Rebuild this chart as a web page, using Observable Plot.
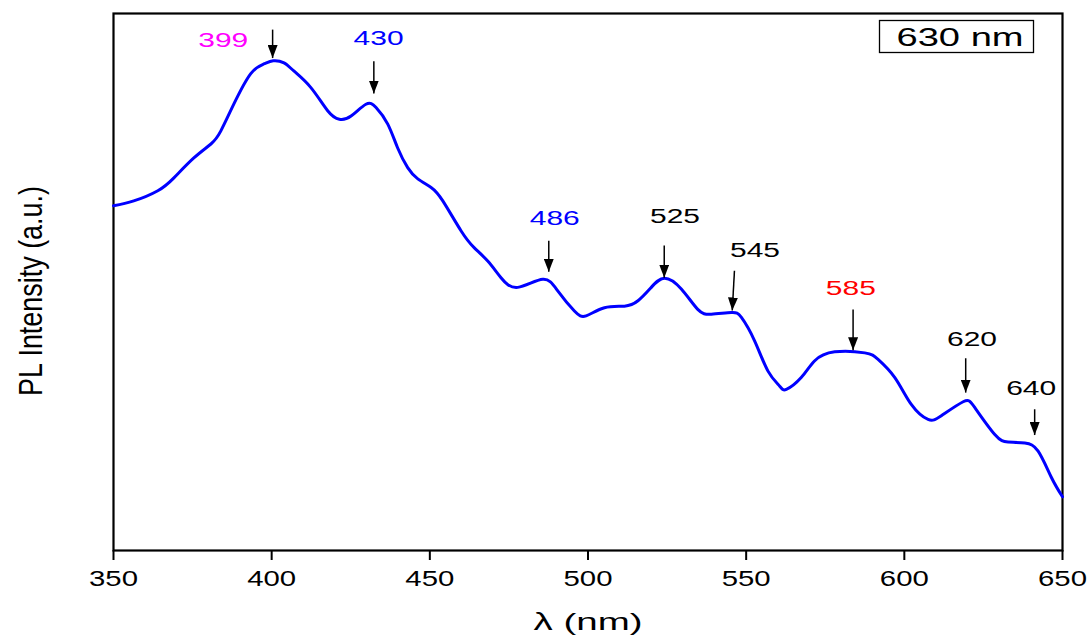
<!DOCTYPE html>
<html>
<head>
<meta charset="utf-8">
<script src="https://cdn.jsdelivr.net/npm/d3@7"></script>
<script src="https://cdn.jsdelivr.net/npm/@observablehq/plot@0.6"></script>
<style>
  body { margin: 0; background: #ffffff; }
  #chart { width: 1089px; height: 635px; }
</style>
</head>
<body>
<div id="chart"></div>
<script>
// PL emission spectrum (legend: 630 nm), intensity in arbitrary units
const wavelength = [350, 356.4, 364.0, 369.1, 375.4, 380.8, 383.9, 388.1, 393.4, 397.5,
  400.5, 403.9, 407.0, 412.4, 417.7, 421.4, 425.1, 429.8, 433.0, 436.7,
  439.8, 443.0, 446.2, 450.4, 454.1, 459.9, 464.0, 468.3, 472.5, 477.8,
  485.7, 490.5, 495.7, 499.4, 505.2, 511.5, 515.8, 520.0, 524.2, 529.5,
  534.7, 539.0, 545.3, 548.5, 552.7, 556.9, 560.6, 562.7, 567.4, 571.6,
  578.0, 587.5, 591.7, 597.0, 602.2, 607.5, 611.7, 618.6, 622.3, 628.6,
  632.8, 638.1, 642.3, 646.5, 650];
const intensity = [64.2, 65.1, 67.0, 69.4, 73.1, 75.7, 78.1, 83.2, 88.8, 90.6,
  91.2, 90.8, 89.3, 86.2, 81.9, 80.3, 80.9, 83.1, 82.5, 79.4,
  75.0, 71.3, 69.2, 67.6, 65.1, 59.5, 56.4, 53.9, 50.8, 49.0,
  50.5, 48.3, 44.6, 43.7, 45.2, 45.5, 46.5, 49.0, 50.7, 48.7,
  44.9, 44.0, 44.3, 43.4, 39.0, 33.4, 30.6, 30.0, 32.2, 35.3,
  37.0, 36.8, 35.6, 32.2, 27.2, 24.4, 25.1, 27.7, 26.6, 21.6,
  20.2, 20.0, 18.5, 13.6, 10.0];

// Peak annotations
const peakLabels = ["399", "430", "486", "525", "545", "585", "620", "640"];
const peakColors = ["#ff00ff", "#0000ff", "#0000ff", "#000000", "#000000", "#ff0000", "#000000", "#000000"];
const labelX = [384.7, 433.8, 489.5, 527.5, 552.8, 583.1, 621.4, 640.1];
const labelY = [94.9, 95.3, 61.9, 62.1, 55.8, 48.7, 39.2, 30.2];
const arrowX1 = [400.3, 432.3, 487.6, 524.1, 546.3, 583.8, 619.4, 641.2];
const arrowY1 = [97.0, 91.1, 57.7, 56.8, 52.1, 44.9, 35.8, 26.3];
const arrowX2 = [400.3, 432.3, 487.6, 524.1, 545.6, 583.8, 619.4, 641.2];
const arrowY2 = [91.7, 85.1, 51.9, 50.8, 44.7, 37.3, 29.4, 21.5];

const xTicks = [350, 400, 450, 500, 550, 600, 650];
const legendText = "630 nm";
const xLabel = "λ (nm)";
const yLabel = "PL Intensity (a.u.)";

const spectrum = wavelength.map((w, i) => ({w, v: intensity[i]}));
const peaks = peakLabels.map((t, i) => ({
  text: t, color: peakColors[i], lx: labelX[i], ly: labelY[i],
  x1: arrowX1[i], y1: arrowY1[i], x2: arrowX2[i], y2: arrowY2[i]
}));

const font = "'Liberation Sans', Arial, Helvetica, sans-serif";

const chart = Plot.plot({
  width: 1089,
  height: 635,
  marginLeft: 113,
  marginRight: 27,
  marginTop: 13,
  marginBottom: 85,
  style: {fontFamily: font, background: "white", color: "black"},
  x: {domain: [350, 650]},
  y: {domain: [0, 100], axis: null},
  color: {type: "identity"},
  marks: [
    Plot.frame({stroke: "black", strokeWidth: 2.2}),
    Plot.axisX({ticks: xTicks, tickSize: 10, tickPadding: 10, tickFormat: d => String(d),
      fontSize: 22, stroke: "black", strokeWidth: 2, fill: "black", label: null}),
    Plot.line(spectrum, {x: "w", y: "v", stroke: "#0000ff", strokeWidth: 3, curve: "natural"}),
    Plot.link(peaks, {x1: "x1", y1: "y1", x2: "x2", y2: "y2", stroke: "black", strokeWidth: 1.5, className: "peak-arrow"}),
    Plot.text(peaks, {x: "lx", y: "ly", text: "text", fill: "color", fontSize: 20, className: "peak-label"}),
    Plot.text([legendText], {frameAnchor: "top-right", dx: -39, dy: 24, textAnchor: "end", lineAnchor: "middle",
      fontSize: 25, fill: "black", className: "legend-label"}),
    Plot.text([yLabel], {frameAnchor: "left", textAnchor: "middle", lineAnchor: "middle", rotate: -90, dx: -82, dy: 9,
      fontSize: 34, fill: "black", className: "y-label"}),
    Plot.text([xLabel], {frameAnchor: "bottom", textAnchor: "middle", dy: 72, lineAnchor: "middle", fontSize: 24,
      fill: "black", className: "x-label"})
  ]
});

document.getElementById("chart").appendChild(chart);

const svg = d3.select(chart);
// stretch glyphs horizontally like the reference figure
svg.selectAll('g[aria-label="x-axis tick label"] text')
  .attr("textLength", 49).attr("lengthAdjust", "spacingAndGlyphs");
svg.selectAll(".peak-label text")
  .attr("textLength", 50).attr("lengthAdjust", "spacingAndGlyphs");
svg.selectAll(".legend-label text")
  .attr("textLength", 127).attr("lengthAdjust", "spacingAndGlyphs");
svg.selectAll(".y-label text")
  .attr("textLength", 210).attr("lengthAdjust", "spacingAndGlyphs");
svg.selectAll(".x-label text")
  .attr("textLength", 109).attr("lengthAdjust", "spacingAndGlyphs");

// filled arrowheads
const defs = svg.insert("defs", ":first-child");
defs.append("marker")
  .attr("id", "arrowhead")
  .attr("viewBox", "0 0 13 10")
  .attr("refX", 13).attr("refY", 5)
  .attr("markerWidth", 13).attr("markerHeight", 10)
  .attr("markerUnits", "userSpaceOnUse")
  .attr("orient", "auto")
  .append("path").attr("d", "M0,0L13,5L0,10Z").attr("fill", "black");
svg.selectAll(".peak-arrow path, .peak-arrow line").attr("marker-end", "url(#arrowhead)");

// legend box around "630 nm"
const lt = svg.select(".legend-label text").node();
if (lt) {
  const bb = lt.getBBox();
  const cy = bb.y + bb.height / 2;
  const g = d3.select(lt.parentNode);
  g.insert("rect", ":first-child")
    .attr("transform", lt.getAttribute("transform"))
    .attr("x", bb.x - 17).attr("y", cy - 16)
    .attr("width", bb.width + 27).attr("height", 32)
    .attr("fill", "none").attr("stroke", "black").attr("stroke-width", 1.3);
}
</script>
</body>
</html>
